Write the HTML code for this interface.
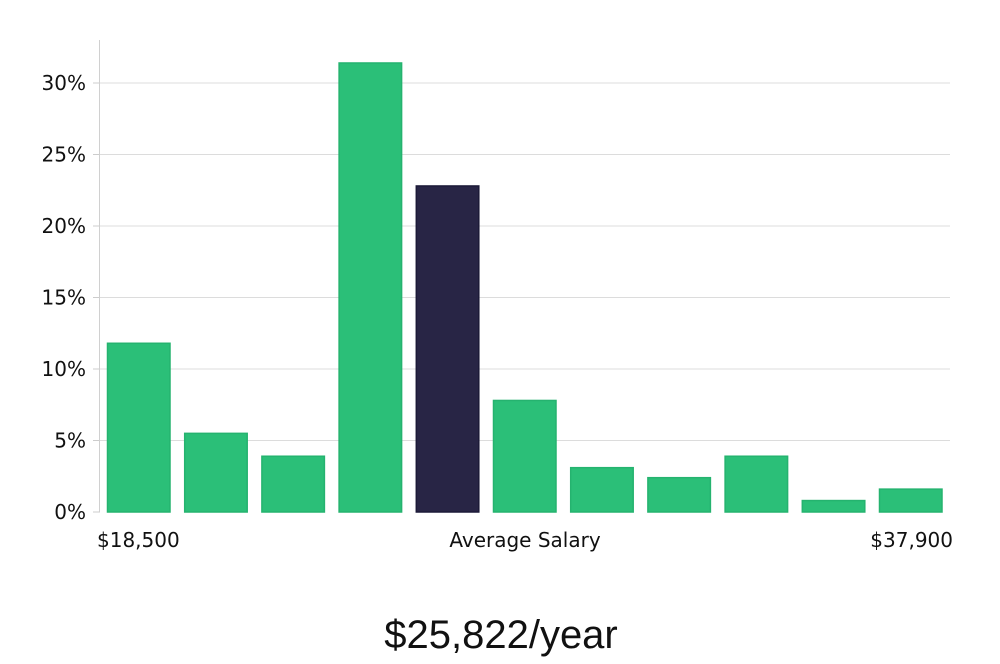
<!DOCTYPE html>
<html><head><meta charset="utf-8">
<style>
html,body{margin:0;padding:0;background:#fff;}
body{width:1000px;height:660px;overflow:hidden;font-family:"DejaVu Sans","Liberation Sans",sans-serif;}
</style></head>
<body>
<svg id="chart" width="1000" height="660" xmlns="http://www.w3.org/2000/svg">
  <g id="grid"></g>
  <g id="bars"></g>
  <g id="yaxis"></g>
  <text x="97" y="547" font-size="20" fill="#111">$18,500</text>
  <text x="525" y="547" font-size="20" fill="#111" text-anchor="middle">Average Salary</text>
  <text x="953" y="547" font-size="20" fill="#111" text-anchor="end">$37,900</text>
  <text x="501" y="648" font-size="40" fill="#111" text-anchor="middle" font-family="'Liberation Sans',sans-serif">$25,822/year</text>
</svg>
<script>
const categories = ["b1","b2","b3","b4","b5","b6","b7","b8","b9","b10","b11"];
const values = [11.8, 5.5, 3.9, 31.4, 22.8, 7.8, 3.1, 2.4, 3.9, 0.8, 1.6];
const highlightIndex = [4];
const yTicks = [0, 5, 10, 15, 20, 25, 30];
const yTickLabels = ["0%","5%","10%","15%","20%","25%","30%"];

const NS = "http://www.w3.org/2000/svg";
const plotLeft = 100, plotRight = 950, y0 = 512, pxPerUnit = 429/30;
const yScale = v => y0 - v * pxPerUnit;
const step = 77.2, barW = 62.5, firstX = 107.5;
const xScale = i => firstX + i * step;

const grid = document.getElementById('grid');
const yaxis = document.getElementById('yaxis');
yTicks.forEach((t, i) => {
  const y = yScale(t);
  if (t > 0) {
    const l = document.createElementNS(NS, 'line');
    
    
    l.setAttribute('x1', plotLeft); l.setAttribute('x2', plotRight);
    l.setAttribute('y1', y); l.setAttribute('y2', y);
    l.setAttribute('stroke', '#dcdcdc'); l.setAttribute('stroke-width', '1');
    grid.appendChild(l);
  }
  const tk = document.createElementNS(NS, 'line');
  
  
  tk.setAttribute('x1', 93); tk.setAttribute('x2', 100);
  tk.setAttribute('y1', y); tk.setAttribute('y2', y);
  tk.setAttribute('stroke', '#ccc');
  yaxis.appendChild(tk);
  const tx = document.createElementNS(NS, 'text');
  
  
  tx.setAttribute('x', 86); tx.setAttribute('y', y + 7);
  tx.setAttribute('text-anchor', 'end');
  tx.setAttribute('font-size', '20'); tx.setAttribute('fill', '#111');
  tx.textContent = yTickLabels[i];
  yaxis.appendChild(tx);
});
const ax = document.createElementNS(NS, 'line');


ax.setAttribute('x1', 99.5); ax.setAttribute('x2', 99.5);
ax.setAttribute('y1', 40); ax.setAttribute('y2', y0);
ax.setAttribute('stroke', '#d0d0d0');
yaxis.appendChild(ax);

const bars = document.getElementById('bars');
values.forEach((v, i) => {
  const r = document.createElementNS(NS, 'rect');
  
  
  const hl = highlightIndex.includes(i);
  r.setAttribute('x', xScale(i));
  r.setAttribute('y', yScale(v));
  r.setAttribute('width', barW);
  r.setAttribute('height', y0 - yScale(v));
  r.setAttribute('fill', hl ? '#282545' : '#2bbf78');
  r.setAttribute('stroke', hl ? '#1c1a38' : '#25b36f');
  r.setAttribute('stroke-width', '1.5');
  bars.appendChild(r);
});
</script>
</body></html>
